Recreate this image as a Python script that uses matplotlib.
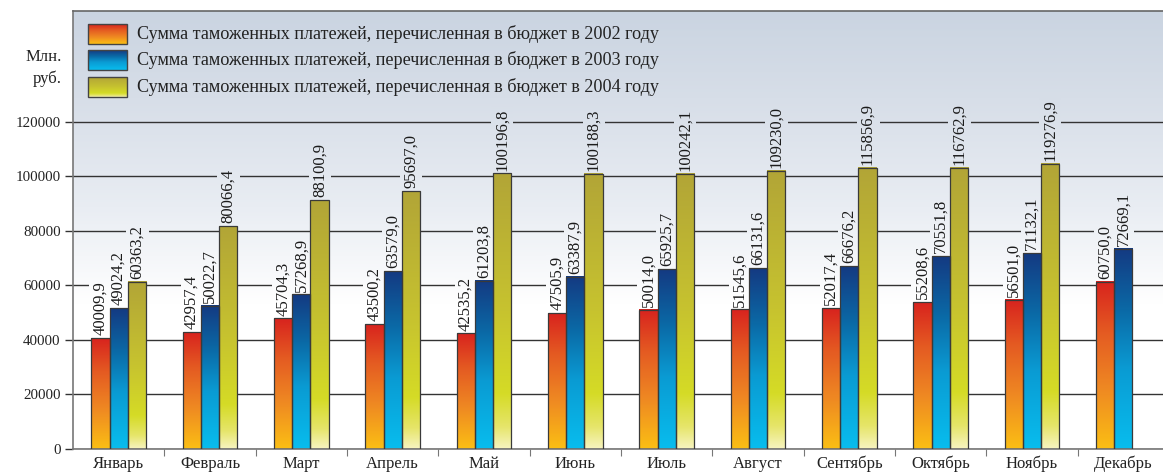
import numpy as np
import matplotlib
matplotlib.use("Agg")
import matplotlib.pyplot as plt
from matplotlib.colors import LinearSegmentedColormap
from matplotlib.patches import Rectangle

months = ["Январь", "Февраль", "Март", "Апрель", "Май", "Июнь",
          "Июль", "Август", "Сентябрь", "Октябрь", "Ноябрь", "Декабрь"]

# heights of the bars as drawn in the picture
bars_2002 = [40600, 42800, 47900, 45800, 42400, 49800, 51000, 51200, 51600, 53800, 54700, 61200]
bars_2003 = [51600, 52500, 56700, 65200, 61600, 63100, 65900, 66300, 67000, 70700, 71800, 73300]
bars_2004 = [61200, 81700, 91200, 94500, 101000, 100800, 100900, 101900, 103000, 103100, 104600, None]

# printed values above the bars
vals_2002 = [40009.9, 42957.4, 45704.3, 43500.2, 42535.2, 47505.9, 50014.0, 51545.6, 52017.4, 55208.6, 56501.0, 60750.0]
vals_2003 = [49024.2, 50022.7, 57268.9, 63579.0, 61203.8, 63387.9, 65925.7, 66131.6, 66676.2, 70551.8, 71132.1, 72669.1]
vals_2004 = [60363.2, 80066.4, 88100.9, 95697.0, 100196.8, 100188.3, 100242.1, 109230.0, 115856.9, 116762.9, 119276.9, None]

legend_labels = ["Сумма таможенных платежей, перечисленная в бюджет в 2002 году",
                 "Сумма таможенных платежей, перечисленная в бюджет в 2003 году",
                 "Сумма таможенных платежей, перечисленная в бюджет в 2004 году"]
yticks = [0, 20000, 40000, 60000, 80000, 100000, 120000]

FONT = "Liberation Serif"
W, H = 1163, 473
YMAX = 160500

cmaps = [
    LinearSegmentedColormap.from_list("y2002", [(0, "#fbbf14"), (0.35, "#ef8a22"), (0.7, "#e45a22"), (1, "#d8231e")]),
    LinearSegmentedColormap.from_list("y2003", [(0, "#08bdee"), (0.4, "#0a9bd3"), (0.7, "#0b68a5"), (1, "#143a82")]),
    LinearSegmentedColormap.from_list("y2004", [(0, "#f7f4c0"), (0.08, "#e6e56a"), (0.2, "#d5db26"),
                                                (0.5, "#c7c32f"), (1, "#b2a537")]),
]
bg = LinearSegmentedColormap.from_list("bg", [(0, "#ffffff"), (0.33, "#ffffff"), (0.55, "#e9edf3"),
                                             (0.8, "#d7dee8"), (1, "#cad4e1")])
ramp = np.linspace(0, 1, 256).reshape(-1, 1)


def fx(px):
    return px / W


def fy(py):
    return 1 - py / H


fig = plt.figure(figsize=(W / 100, H / 100), dpi=100)
ax = fig.add_axes([fx(73), fy(449), 1 - fx(73), (449 - 11) / H])
ax.imshow(ramp, cmap=bg, origin="lower", extent=(0, 1, 0, 1), transform=ax.transAxes,
          aspect="auto", zorder=0)

x = np.arange(len(months))
bw = 0.2
series = [(bars_2002, vals_2002), (bars_2003, vals_2003), (bars_2004, vals_2004)]
texts = []
for i, (bars, vals) in enumerate(series):
    for j in range(len(months)):
        if bars[j] is None:
            continue
        x0 = x[j] + (i - 1.5) * bw
        ax.imshow(ramp, cmap=cmaps[i], origin="lower", extent=(x0, x0 + bw, 0, bars[j]),
                  aspect="auto", zorder=2)
        ax.add_patch(Rectangle((x0, 0), bw, bars[j], fill=False, edgecolor="#3a3a3a", lw=0.9, zorder=3))
        t = ax.text(x0 + bw / 2, bars[j] + 1000, f"{vals[j]:.1f}".replace(".", ","),
                    rotation=90, ha="center", va="bottom", fontsize=12, family=FONT,
                    color="#1a1a1a", zorder=5)
        texts.append(t)

ax.set_xlim(-0.5, 11.5 - 6 / 91.3)
ax.set_ylim(0, YMAX)
ax.set_yticks(yticks)
ax.set_yticklabels([str(v) for v in yticks], family=FONT, fontsize=10.8, color="#222222")
ax.yaxis.grid(True, color="#333333", lw=1.0)
ax.set_axisbelow(True)
ax.tick_params(axis="y", length=6, width=1, color="#333333", pad=3)

ax.set_xticks(x[:-1] + 0.5)
ax.set_xticklabels([])
ax.set_xticks(x, minor=True)
ax.set_xticklabels(months, minor=True, family=FONT, fontsize=12, color="#222222")
ax.tick_params(axis="x", which="major", length=5, color="#777777", direction="out")
ax.tick_params(axis="x", which="minor", length=0, pad=5)

for s in ["left", "bottom", "top"]:
    ax.spines[s].set_color("#777777")
    ax.spines[s].set_linewidth(1.2)
ax.spines["top"].set_color("#666666")
ax.spines["right"].set_visible(False)

# break gridlines behind value labels with a strip of the background
fig.canvas.draw()
inv = ax.transData.inverted()
for t in texts:
    bb = t.get_window_extent()
    (a0, b0) = inv.transform((bb.x0 - 3, bb.y0 - 2))
    (a1, b1) = inv.transform((bb.x1 + 3, bb.y1 + 2))
    strip = np.linspace(b0 / YMAX, b1 / YMAX, 64).reshape(-1, 1)
    ax.imshow(strip, cmap=bg, vmin=0, vmax=1, origin="lower", extent=(a0, a1, b0, b1),
              aspect="auto", zorder=1)
ax.set_xlim(-0.5, 11.5 - 6 / 91.3)
ax.set_ylim(0, YMAX)

# legend
rows = [34, 60, 87]
for i, yc in enumerate(rows):
    ax.imshow(ramp, cmap=cmaps[i], origin="lower",
              extent=(fx(88), fx(127), fy(yc + 10), fy(yc - 10)),
              transform=fig.transFigure, aspect="auto", zorder=6, clip_on=False)
    fig.add_artist(Rectangle((fx(88), fy(yc + 10)), fx(39), 20 / H, fill=False,
                             edgecolor="#444444", lw=1, transform=fig.transFigure, zorder=7))
    fig.text(fx(137), fy(yc), legend_labels[i], family=FONT, fontsize=13.1,
             va="center", ha="left", color="#222222")

fig.text(fx(62), fy(57), "Млн.", family=FONT, fontsize=12, ha="right", va="center", color="#222222")
fig.text(fx(62), fy(79), "руб.", family=FONT, fontsize=12, ha="right", va="center", color="#222222")

fig.savefig("out.png", dpi=100)
